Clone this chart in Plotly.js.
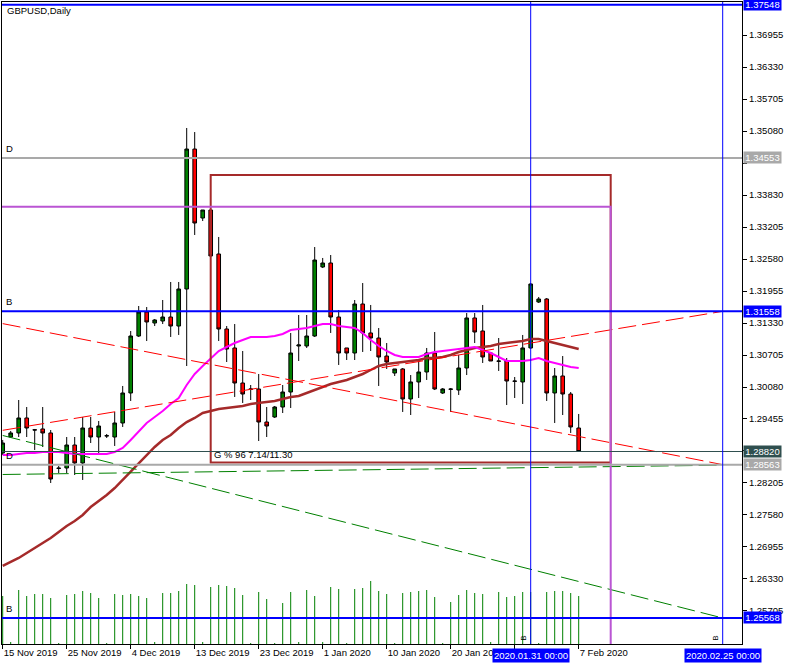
<!DOCTYPE html>
<html><head><meta charset="utf-8">
<script src="https://cdn.plot.ly/plotly-3.0.1.min.js"></script>
<style>html,body{margin:0;padding:0;background:#fff}#chart{width:794px;height:665px}</style>
</head><body><div id="chart"></div>
<script>
// ---------- data ----------
const sessionDates = [
 '2019-11-15','2019-11-17','2019-11-18','2019-11-19','2019-11-20','2019-11-21','2019-11-22','2019-11-24','2019-11-25','2019-11-26','2019-11-27','2019-11-28','2019-11-29',
 '2019-12-01','2019-12-02','2019-12-03','2019-12-04','2019-12-05','2019-12-06','2019-12-08','2019-12-09','2019-12-10','2019-12-11','2019-12-12','2019-12-13','2019-12-15','2019-12-16','2019-12-17','2019-12-18','2019-12-19','2019-12-20','2019-12-22','2019-12-23','2019-12-24','2019-12-25','2019-12-26','2019-12-27','2019-12-29','2019-12-30','2019-12-31',
 '2020-01-01','2020-01-02','2020-01-03','2020-01-05','2020-01-06','2020-01-07','2020-01-08','2020-01-09','2020-01-10','2020-01-12','2020-01-13','2020-01-14','2020-01-15','2020-01-16','2020-01-17','2020-01-19','2020-01-20','2020-01-21','2020-01-22','2020-01-23','2020-01-24','2020-01-26','2020-01-27','2020-01-28','2020-01-29','2020-01-30','2020-01-31',
 '2020-02-02','2020-02-03','2020-02-04','2020-02-05','2020-02-06','2020-02-07'];

const opens = [1.28791,1.29103,1.29182,1.29475,1.29245,1.29260,1.29182,1.28498,1.28498,1.28947,1.28596,1.29279,1.29103,
 1.29123,1.29103,1.29377,1.29963,1.31076,1.31545,1.31330,1.31369,1.31447,1.31271,1.31994,1.34728,1.33381,1.33537,1.32678,1.31213,1.30842,1.30158,1.30041,1.30041,1.29396,1.29494,1.29689,1.29982,1.30881,1.30881,1.31076,
 1.32424,1.32502,1.31447,1.30842,1.30744,1.31701,1.31135,1.31037,1.30685,1.30353,1.30432,1.29846,1.30178,1.30373,1.30744,1.29963,1.30041,1.30021,1.30451,1.31428,1.31174,1.30744,1.30588,1.30588,1.30197,1.30178,1.30842,
 1.31740,1.31799,1.29963,1.30295,1.29943,1.29279];
const highs = [1.29045,1.29221,1.29826,1.29689,1.29260,1.29689,1.29240,1.28537,1.29103,1.29103,1.29494,1.29494,1.29416,
 1.29162,1.29592,1.30100,1.31174,1.31662,1.31642,1.31408,1.31779,1.32131,1.32131,1.35139,1.35060,1.33537,1.33557,1.33010,1.31271,1.31310,1.30783,1.30119,1.30334,1.29689,1.29709,1.30119,1.31135,1.31486,1.31486,1.32814,
 1.32600,1.32658,1.31584,1.30842,1.31779,1.32111,1.31682,1.31232,1.30939,1.30432,1.30451,1.30314,1.30627,1.30842,1.31154,1.30060,1.30060,1.30705,1.31525,1.31525,1.31682,1.30764,1.31037,1.30646,1.30275,1.31096,1.32111,
 1.31838,1.31818,1.30451,1.30685,1.29982,1.29553];
const lows = [1.28752,1.29084,1.29103,1.29103,1.28850,1.28908,1.28205,1.28400,1.28400,1.28361,1.28264,1.28986,1.28791,
 1.29084,1.28928,1.29299,1.29807,1.31057,1.30978,1.31271,1.31310,1.31057,1.31096,1.30490,1.33049,1.33322,1.32619,1.30978,1.30568,1.29885,1.29768,1.29826,1.29025,1.29103,1.29475,1.29572,1.29670,1.30588,1.30842,1.31057,
 1.32404,1.31135,1.30510,1.30607,1.30607,1.30764,1.30783,1.30100,1.30432,1.30295,1.29592,1.29533,1.29865,1.30217,1.30021,1.29943,1.29592,1.29924,1.30314,1.30939,1.30549,1.30588,1.30393,1.29728,1.29865,1.29748,1.30822,
 1.31721,1.29807,1.29377,1.29533,1.29182,1.28820];
const closes = [1.28986,1.29182,1.29475,1.29279,1.29240,1.29182,1.28283,1.28490,1.28947,1.28596,1.29279,1.29103,1.29318,
 1.29128,1.29377,1.29963,1.31076,1.31545,1.31350,1.31389,1.31447,1.31271,1.31994,1.34728,1.33283,1.33537,1.32639,1.31213,1.30822,1.30158,1.29943,1.30036,1.29396,1.29318,1.29689,1.29982,1.30744,1.30900,1.31076,1.32560,
 1.32502,1.31447,1.30744,1.30744,1.31701,1.31135,1.31037,1.30666,1.30568,1.30432,1.29846,1.30178,1.30373,1.30744,1.30041,1.30041,1.30036,1.30451,1.31428,1.31154,1.30666,1.30588,1.30583,1.30197,1.30192,1.30842,1.32092,
 1.31799,1.29963,1.30295,1.29943,1.29299,1.28820];
const tickVolumes = [48,2,54,48,50,50,46,1,49,50,53,51,46,
 1,50,49,50,48,46,2,51,51,53,60,59,2,57,59,58,56,49,1,52,45,1,41,52,2,54,48,
 2,57,55,1,55,56,63,53,50,1,51,52,53,54,47,1,42,49,54,51,50,2,52,47,48,52,52,
 1,52,53,53,51,48];
const maFast = [1.28752,1.28752,1.28772,1.28791,1.28791,1.28811,1.28811,1.28811,1.28791,1.28772,1.28772,1.28772,1.28772,
 1.28772,1.28811,1.28889,1.29045,1.29221,1.29377,1.29494,1.29611,1.29748,1.29865,1.30119,1.30334,1.30490,1.30627,1.30783,1.30861,1.30939,1.30998,1.31057,1.31057,1.31057,1.31076,1.31115,1.31193,1.31213,1.31232,1.31271,
 1.31310,1.31310,1.31271,1.31252,1.31232,1.31135,1.30998,1.30881,1.30783,1.30705,1.30666,1.30666,1.30666,1.30724,1.30764,1.30783,1.30803,1.30822,1.30842,1.30861,1.30803,1.30744,1.30666,1.30588,1.30588,1.30588,1.30607,
 1.30646,1.30588,1.30549,1.30510,1.30471,1.30451];
const maSlow = [1.26584,1.26662,1.26740,1.26838,1.26936,1.27033,1.27131,1.27248,1.27365,1.27463,1.27580,1.27736,1.27853,
 1.27971,1.28107,1.28264,1.28439,1.28596,1.28752,1.28908,1.29045,1.29143,1.29279,1.29396,1.29475,1.29572,1.29611,1.29650,1.29670,1.29689,1.29709,1.29748,1.29768,1.29787,1.29807,1.29846,1.29885,1.29904,1.29963,1.30021,
 1.30080,1.30139,1.30178,1.30217,1.30275,1.30334,1.30412,1.30490,1.30529,1.30549,1.30568,1.30588,1.30607,1.30646,1.30646,1.30666,1.30705,1.30764,1.30803,1.30842,1.30861,1.30881,1.30920,1.30939,1.30959,1.30978,1.31018,
 1.31018,1.30978,1.30939,1.30900,1.30861,1.30822];

// tick labels hidden behind the marker boxes in the original are left blank
const axisTickDates = ['2019-11-15','2019-11-25','2019-12-04','2019-12-13','2019-12-23','2020-01-01','2020-01-10','2020-01-20','2020-01-29','2020-02-07'];
const axisTickLabels = ['15 Nov 2019','25 Nov 2019','4 Dec 2019','13 Dec 2019','23 Dec 2019','1 Jan 2020','10 Jan 2020','20 Jan 2020','','7 Feb 2020'];
const priceTicks = [1.36955,1.36330,1.35705,1.35080,1.34455,1.33830,1.33205,1.32580,1.31955,1.31330,1.30705,1.30080,1.29455,1.28830,1.28205,1.27580,1.26955,1.26330,1.25705];
const hiddenPriceTicks = [1.34455,1.28830];

const levelPrices = [1.37548,1.34553,1.31558,1.28563,1.25568];
const levelColors = ['#0000FF','#A9A9A9','#0000FF','#A9A9A9','#0000FF'];
const levelNames = ['','D','B','D','B'];
const bidPrice = 1.28820;

const trendStartDates = ['2019-11-15','2019-11-15','2019-11-15','2019-11-15'];
const trendStartPrices = [1.29234,1.31318,1.29133,1.28371];
const trendEndDates = ['2020-02-25','2020-02-25','2020-02-25','2020-02-25'];
const trendEndPrices = [1.31558,1.28563,1.25568,1.28553];
const trendColors = ['#FF0000','#FF0000','#008000','#008000'];

const rectStartDates = ['2019-12-16','2019-11-01'];
const rectEndDates = ['2020-02-11','2020-02-11'];
const rectTopPrices = [1.34221,1.33602];
const rectBottomPrices = [1.28605,1.20000];
const rectColors = ['#A52A2A','#BA55D3'];
const rectLabel = 'G % 96 7.14/11.30';

const vlineDates = ['2020-01-31','2020-02-25'];
const vlineLabels = ['2020.01.31 00:00','2020.02.25 00:00'];

// ---------- helpers ----------
const DAY = 86400000;
function dateIndex(d){
  const i = sessionDates.indexOf(d);
  if (i >= 0) return i;
  const last = sessionDates.length - 1;
  const t = Date.parse(d);
  if (t > Date.parse(sessionDates[last])) return last + Math.round((t - Date.parse(sessionDates[last]))/DAY);
  return Math.round((t - Date.parse(sessionDates[0]))/DAY);
}
const xi = sessionDates.map((d,i)=>i);
const FONT = 'Liberation Sans, Arial, sans-serif';
const FS = 9.5;

// volume sticks
const vx = [], vy = [];
tickVolumes.forEach((v,i)=>{ vx.push(xi[i],xi[i],null); vy.push(0,v,null); });

const traces = [
  {type:'scatter', mode:'lines', x:vx, y:vy, yaxis:'y2', line:{color:'#008000', width:1}, hoverinfo:'skip'},
  {type:'candlestick', x:xi, open:opens, high:highs, low:lows, close:closes,
   increasing:{line:{color:'#000000', width:1}, fillcolor:'#008000'},
   decreasing:{line:{color:'#000000', width:1}, fillcolor:'#FF0000'},
   whiskerwidth:0, hoverinfo:'skip'},
  {type:'scatter', mode:'lines', x:xi, y:maSlow, line:{color:'#A52A2A', width:2.5}, hoverinfo:'skip'},
  {type:'scatter', mode:'lines', x:xi, y:maFast, line:{color:'#FF00FF', width:2}, hoverinfo:'skip'}
];
trendStartDates.forEach((d,k)=>{
  traces.push({type:'scatter', mode:'lines', x:[dateIndex(d), dateIndex(trendEndDates[k])],
    y:[trendStartPrices[k], trendEndPrices[k]], line:{color:trendColors[k], width:1, dash:'18px,6px'}, hoverinfo:'skip'});
});

const shapes = [];
const annotations = [];
rectStartDates.forEach((d,k)=>{
  shapes.push({type:'rect', xref:'x', yref:'y', x0:dateIndex(d), x1:dateIndex(rectEndDates[k]),
    y0:rectBottomPrices[k], y1:rectTopPrices[k], line:{color:rectColors[k], width:2}, fillcolor:'rgba(0,0,0,0)'});
});
annotations.push({xref:'x', yref:'y', x:dateIndex(rectStartDates[0]), y:rectBottomPrices[0], xanchor:'left', yanchor:'bottom',
  xshift:1, yshift:1, text:rectLabel, showarrow:false, font:{family:FONT, size:FS, color:'#000'}});
shapes.push({type:'line', xref:'paper', yref:'y', x0:0, x1:1, y0:bidPrice, y1:bidPrice, line:{color:'#2F4F4F', width:1}});
levelPrices.forEach((p,k)=>{
  shapes.push({type:'line', xref:'paper', yref:'y', x0:0, x1:1, y0:p, y1:p, line:{color:levelColors[k], width:2}});
  if (levelNames[k]) annotations.push({xref:'paper', yref:'y', x:0, y:p, xanchor:'left', yanchor:'bottom', xshift:2, yshift:2,
    text:levelNames[k], showarrow:false, font:{family:FONT, size:FS, color:'#000'}});
});
vlineDates.forEach((d,k)=>{
  shapes.push({type:'line', xref:'x', yref:'paper', x0:dateIndex(d), x1:dateIndex(d), y0:0, y1:1, line:{color:'#0000FF', width:1}});
  annotations.push({xref:'x', yref:'paper', x:dateIndex(d), y:0, xanchor:'center', yanchor:'top', yshift:-4,
    text:vlineLabels[k], showarrow:false, bgcolor:'#0000FF', borderpad:1, font:{family:FONT, size:FS, color:'#FFFFFF'}});
  annotations.push({xref:'x', yref:'paper', x:dateIndex(d), y:0, xanchor:'right', yanchor:'bottom', xshift:-1, yshift:1,
    text:'B', textangle:-90, showarrow:false, font:{family:FONT, size:8, color:'#000'}});
});
const labelPrices = levelPrices.concat([bidPrice]);
const labelColors = levelColors.concat(['#2F4F4F']);
labelPrices.forEach((p,k)=>{
  annotations.push({xref:'paper', yref:'y', x:1, y:p, xanchor:'left', yanchor:'middle', xshift:1, width:37,
    text:p.toFixed(5), showarrow:false, bgcolor:labelColors[k], borderpad:0, font:{family:FONT, size:FS, color:'#FFFFFF'}});
});
annotations.push({xref:'paper', yref:'paper', x:0, y:1, xanchor:'left', yanchor:'top', xshift:3, yshift:-1,
  text:'GBPUSD,Daily', showarrow:false, font:{family:FONT, size:FS, color:'#000'}});

const layout = {
  width:794, height:665, margin:{l:2, r:52, t:2, b:21},
  paper_bgcolor:'#FFFFFF', plot_bgcolor:'#FFFFFF', showlegend:false, boxgap:0.35,
  font:{family:FONT, size:FS, color:'#000'},
  xaxis:{range:[-0.0875, 92.4125], showgrid:false, zeroline:false, showline:true, linecolor:'#000', linewidth:1, mirror:true,
    ticks:'outside', ticklen:4, tickcolor:'#000', tickvals:axisTickDates.map(dateIndex), ticktext:axisTickLabels,
    ticklabelposition:'outside right', tickfont:{family:FONT, size:FS, color:'#000'}, rangeslider:{visible:false}, fixedrange:true},
  yaxis:{range:[1.25060, 1.37600], side:'right', showgrid:false, zeroline:false, showline:true, linecolor:'#000', linewidth:1, mirror:true,
    ticks:'outside', ticklen:4, tickcolor:'#000', tickvals:priceTicks,
    ticktext:priceTicks.map(v=> hiddenPriceTicks.includes(v) ? '' : v.toFixed(5)),
    tickfont:{family:FONT, size:FS, color:'#000'}, fixedrange:true},
  yaxis2:{overlaying:'y', range:[0, 642], visible:false, fixedrange:true},
  shapes:shapes, annotations:annotations, hovermode:false
};
Plotly.newPlot('chart', traces, layout, {staticPlot:true, displayModeBar:false});
</script>
</body></html>
